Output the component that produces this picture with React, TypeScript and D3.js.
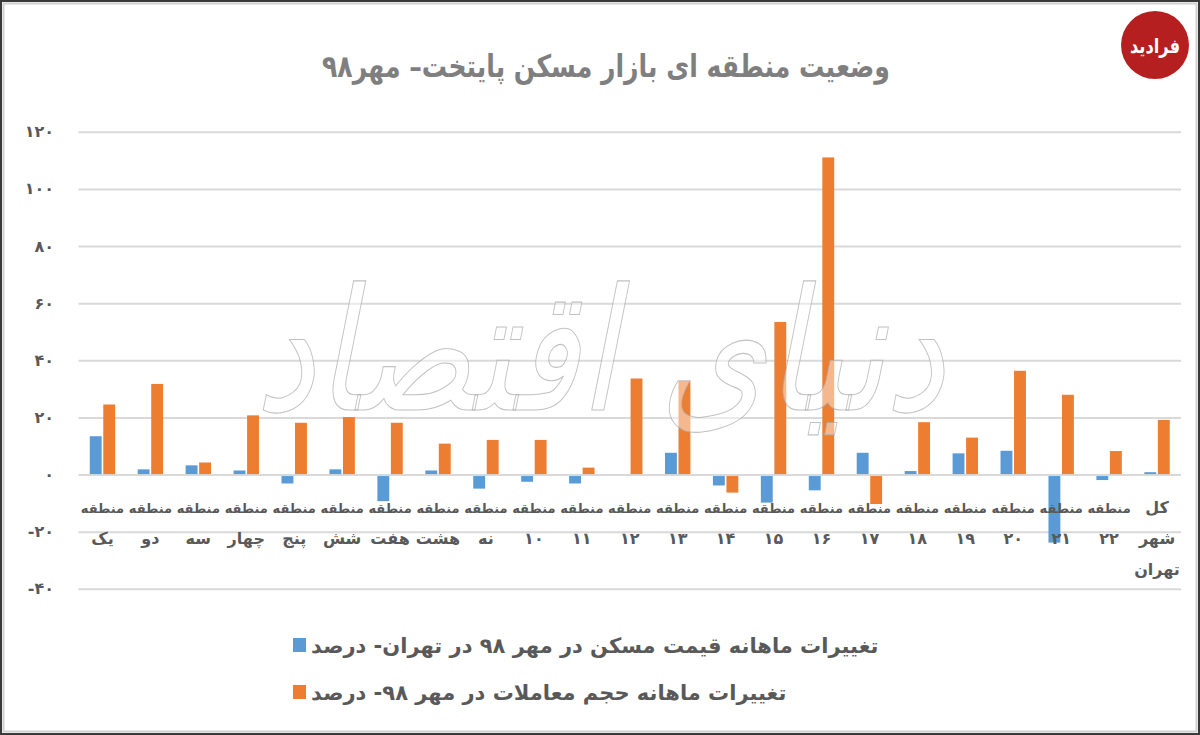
import React from "react";
import * as d3 from "d3";

const categories: string[][] = [
  ["منطقه", "یک"], ["منطقه", "دو"], ["منطقه", "سه"], ["منطقه", "چهار"], ["منطقه", "پنج"],
  ["منطقه", "شش"], ["منطقه", "هفت"], ["منطقه", "هشت"], ["منطقه", "نه"], ["منطقه", "۱۰"],
  ["منطقه", "۱۱"], ["منطقه", "۱۲"], ["منطقه", "۱۳"], ["منطقه", "۱۴"], ["منطقه", "۱۵"],
  ["منطقه", "۱۶"], ["منطقه", "۱۷"], ["منطقه", "۱۸"], ["منطقه", "۱۹"], ["منطقه", "۲۰"],
  ["منطقه", "۲۱"], ["منطقه", "۲۲"], ["کل", "شهر", "تهران"],
];

const priceChange: number[] = [
  13.6, 2.0, 3.4, 1.6, -2.6, 2.0, -8.8, 1.6, -4.4, -2.0, -2.6, 0, 7.8, -3.3, -9.3, -5.0, 7.8,
  1.4, 7.6, 8.5, -23.3, -1.4, 1.0,
];

const volumeChange: number[] = [
  24.7, 31.9, 4.4, 20.9, 18.3, 20.3, 18.3, 11.0, 12.3, 12.3, 2.6, 33.8, 32.9, -5.8, 53.6, 111.2,
  -9.8, 18.5, 13.1, 36.5, 28.1, 8.4, 19.3,
];

const yTicks: number[] = [120, 100, 80, 60, 40, 20, 0, -20, -40];
const yTickLabels: string[] = ["۱۲۰", "۱۰۰", "۸۰", "۶۰", "۴۰", "۲۰", "۰", "-۲۰", "-۴۰"];

const seriesNames: string[] = [
  "تغییرات ماهانه قیمت مسکن در مهر ۹۸ در تهران- درصد",
  "تغییرات ماهانه حجم معاملات در مهر ۹۸- درصد",
];
const seriesColors: string[] = ["#5b9bd5", "#ed7d31"];

const title = "وضعیت منطقه ای بازار مسکن پایتخت– مهر۹۸";

const W = 1200;
const H = 735;
const FONT = "'DejaVu Sans', 'Noto Sans', sans-serif";

export default function App() {
  const plotLeft = 78.5;
  const plotRight = 1181;
  const x = d3
    .scaleBand<number>()
    .domain(d3.range(categories.length))
    .range([plotLeft, plotRight])
    .paddingInner(0.47)
    .paddingOuter(0.235);
  const sub = d3.scaleBand<number>().domain([0, 1]).range([0, x.bandwidth()]).paddingInner(0.12);
  const y = d3.scaleLinear().domain([-40, 120]).range([589.3, 132.3]);

  const series = [priceChange, volumeChange];
  const isDigits = (s: string) => /^[۰-۹]+$/.test(s);

  return (
    <svg
      width={W}
      height={H}
      viewBox={`0 0 ${W} ${H}`}
      style={{ position: "absolute", left: 0, top: 0, background: "#fff" }}
    >
      <rect x={0} y={0} width={W} height={H} fill="#fff" />
      {/* frame */}
      <rect x={1} y={1} width={W - 2} height={H - 2} fill="none" stroke="#3a3a3a" strokeWidth={2} />
      <rect x={3.5} y={3.5} width={W - 7} height={H - 7} fill="none" stroke="#d0d0d0" strokeWidth={2} />

      {/* title */}
      <text
        x={606}
        y={77}
        textAnchor="middle"
        direction="rtl"
        fontFamily={FONT}
        fontWeight="bold"
        fontSize={31}
        textLength={568}
        lengthAdjust="spacingAndGlyphs"
        fill="#7f7f7f"
      >
        {title}
      </text>

      {/* logo */}
      <circle cx={1155} cy={45} r={34} fill="#b51f1f" />
      <text
        x={1155}
        y={53}
        textAnchor="middle"
        direction="rtl"
        fontFamily={FONT}
        fontWeight="bold"
        fontSize={20}
        textLength={50}
        lengthAdjust="spacingAndGlyphs"
        fill="#fff"
      >
        فرادید
      </text>

      {/* gridlines */}
      {yTicks.map((t) => (
        <line
          key={`g${t}`}
          x1={plotLeft}
          x2={plotRight}
          y1={y(t)}
          y2={y(t)}
          stroke="#d9d9d9"
          strokeWidth={2}
        />
      ))}
      {yTicks.map((t, i) => (
        <text
          key={`yl${t}`}
          x={54}
          y={y(t) + 5}
          textAnchor="end"
          fontFamily={FONT}
          fontWeight="bold"
          fontSize={16}
          letterSpacing={3}
          fill="#595959"
        >
          {yTickLabels[i]}
        </text>
      ))}

      {/* bars */}
      {series.map((vals, s) =>
        vals.map((v, i) => {
          const bx = (x(i) as number) + (sub(s) as number);
          const y0 = v >= 0 ? y(v) : y(0) + 1;
          const h = Math.abs(y(v) - y(0)) - (v >= 0 ? 1 : 0);
          return (
            <rect
              key={`b${s}-${i}`}
              x={bx}
              y={y0}
              width={sub.bandwidth()}
              height={Math.max(0, h)}
              fill={seriesColors[s]}
            />
          );
        })
      )}

      {/* watermark */}
      <text
        x={600}
        y={410}
        textAnchor="middle"
        direction="rtl"
        fontFamily={FONT}
        fontStyle="italic"
        fontSize={170}
        textLength={690}
        lengthAdjust="spacingAndGlyphs"
        fill="#ffffff"
        fillOpacity={0.45}
        stroke="#a8a8a8"
        strokeOpacity={0.7}
        strokeWidth={1.1}
      >
        دنیای اقتصاد
      </text>

      {/* category labels */}
      {categories.map((lines, i) => {
        const cx = (x(i) as number) + x.bandwidth() / 2;
        return (
          <g key={`c${i}`}>
            {lines.map((ln, j) => {
              const isRegion = ln === "منطقه";
              return (
                <text
                  key={j}
                  x={cx}
                  y={513 + j * 31}
                  textAnchor="middle"
                  direction="rtl"
                  fontFamily={FONT}
                  fontWeight="bold"
                  fontSize={isRegion ? 13 : 16}
                  letterSpacing={isDigits(ln) ? 4 : 0}
                  fill="#595959"
                >
                  {ln}
                </text>
              );
            })}
          </g>
        );
      })}

      {/* legend */}
      {seriesNames.map((name, s) => (
        <g key={`lg${s}`}>
          <rect x={293} y={638 + s * 47} width={13} height={14} fill={seriesColors[s]} />
          <text
            x={311}
            y={653 + s * 47}
            textAnchor="end"
            direction="rtl"
            fontFamily={FONT}
            fontWeight="bold"
            fontSize={21}
            fill="#595959"
          >
            {name}
          </text>
        </g>
      ))}
    </svg>
  );
}
